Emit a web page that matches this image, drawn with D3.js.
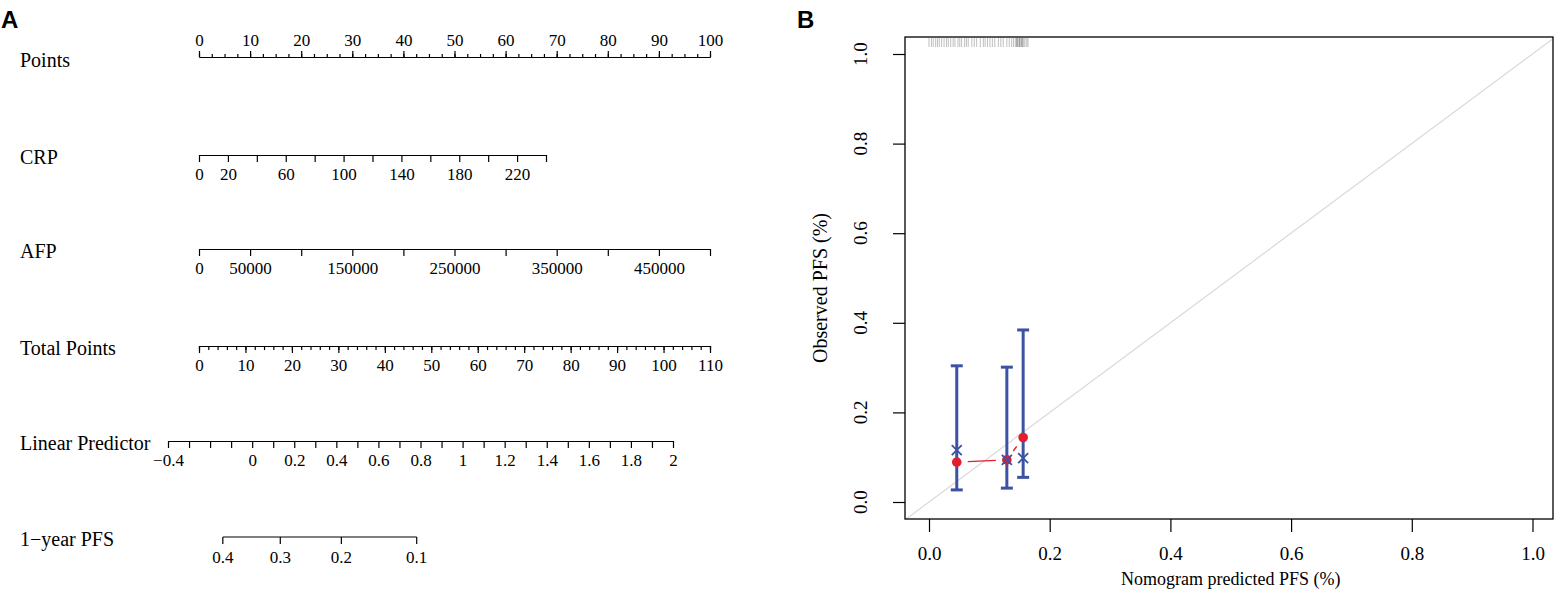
<!DOCTYPE html>
<html lang="en">
    <head>
        <meta charset="utf-8">
        <title>Nomogram and calibration</title>
        <style>
            body { margin: 0; background: #fff; }
            svg { display: block; }
            text { font-family: "Liberation Serif", "DejaVu Serif", serif; fill: #000; }
            .panel { font-family: "Liberation Sans", Arial, sans-serif; font-weight: bold; font-size: 24px; }
        </style>
    </head>
    <body>
        <script src="https://d3js.org/d3.v7.min.js"></script>
        <script>
            // ---- nomogram (panel A) data ----
            const rowNames = ["Points", "CRP", "AFP", "Total Points", "Linear Predictor", "1\u2212year PFS"];
            const pointsMajor = [0, 10, 20, 30, 40, 50, 60, 70, 80, 90, 100];
            const crpTicks = [0, 20, 40, 60, 80, 100, 120, 140, 160, 180, 200, 220, 240];
            const crpLabels = [0, 20, 60, 100, 140, 180, 220];
            const afpTicks = [0, 50000, 100000, 150000, 200000, 250000, 300000, 350000, 400000, 450000, 500000];
            const afpLabels = [0, 50000, 150000, 250000, 350000, 450000];
            const totalMajor = [0, 10, 20, 30, 40, 50, 60, 70, 80, 90, 100, 110];
            const lpTicks = [-0.4, -0.3, -0.2, -0.1, 0, 0.1, 0.2, 0.3, 0.4, 0.5, 0.6, 0.7, 0.8, 0.9, 1, 1.1, 1.2, 1.3, 1.4, 1.5, 1.6, 1.7, 1.8, 1.9, 2];
            const lpLabels = [-0.4, 0, 0.2, 0.4, 0.6, 0.8, 1, 1.2, 1.4, 1.6, 1.8, 2];
            const pfsTicks = [0.4, 0.3, 0.2, 0.1];

            // ---- calibration (panel B) data ----
            const calPred = [0.046, 0.129, 0.156];
            const calObs = [0.089, 0.094, 0.144];
            const calCorrected = [0.116, 0.094, 0.098];
            const calLower = [0.027, 0.031, 0.055];
            const calUpper = [0.304, 0.301, 0.384];
            const rugPred = [0.000, 0.004, 0.007, 0.011, 0.014, 0.017, 0.021, 0.025, 0.029, 0.032,
                             0.036, 0.040, 0.043, 0.048, 0.051, 0.054, 0.059, 0.062, 0.065, 0.071,
                             0.075, 0.079, 0.085, 0.090, 0.093, 0.097, 0.101, 0.105, 0.109, 0.115,
                             0.119, 0.123, 0.129, 0.133, 0.137, 0.140, 0.143, 0.145, 0.146, 0.147,
                             0.149, 0.150, 0.151, 0.153, 0.154, 0.155, 0.157, 0.159, 0.162, 0.164];
            const calTicks = [0, 0.2, 0.4, 0.6, 0.8, 1];

            const W = 1556, H = 595;
            const svg = d3.select("body").append("svg").attr("width", W).attr("height", H);

            // ---------------- panel A ----------------
            const rowY = [57, 155, 249, 346, 441, 537];
            const pointsX = d3.scaleLinear().domain([0, 100]).range([199, 710]);
            const crpX = d3.scaleLinear().domain([0, 240]).range([199, 546]);
            const afpX = d3.scaleLinear().domain([0, 500000]).range([199, 710]);
            const totalX = d3.scaleLinear().domain([0, 110]).range([199, 710]);
            const lpX = d3.scaleLinear().domain([-0.4, 2]).range([168, 673]);
            // survival axis sits on the linear predictor through the cloglog link
            const pfsX = v => lpX(Math.log(-Math.log(v)) - 0.052);

            const fmt = d => String(d).replace("-", "\u2212");
            const tickFont = 17;

            function styleAxis(g) {
                g.selectAll("path, line").attr("stroke", "#000").attr("stroke-width", 1.2);
                g.selectAll("text").attr("font-family", "Liberation Serif").attr("font-size", tickFont).attr("fill", "#000");
            }

            function drawRow(scale, y, ticks, labels, minor, top) {
                const make = top ? d3.axisTop : d3.axisBottom;
                if (minor) {
                    svg.append("g").attr("transform", `translate(0,${y})`)
                        .call(make(scale).tickValues(minor).tickSize(top ? 3 : 4).tickSizeOuter(0).tickFormat(""))
                        .call(styleAxis);
                }
                svg.append("g").attr("transform", `translate(0,${y})`)
                    .call(make(scale).tickValues(ticks).tickSize(top ? 6 : 7).tickSizeOuter(0)
                        .tickPadding(top ? 5 : 6)
                        .tickFormat(d => labels.includes(d) ? fmt(d) : ""))
                    .call(styleAxis);
            }

            drawRow(pointsX, rowY[0], pointsMajor, pointsMajor, d3.range(0, 100.1, 2.5), true);
            drawRow(crpX, rowY[1], crpTicks, crpLabels, null, false);
            drawRow(afpX, rowY[2], afpTicks, afpLabels, null, false);
            drawRow(totalX, rowY[3], totalMajor, totalMajor, d3.range(0, 110.1, 2), false);
            drawRow(lpX, rowY[4], lpTicks, lpLabels, null, false);

            // 1-year PFS uses its own transform, so build it by hand
            const pfsG = svg.append("g");
            pfsG.append("line")
                .attr("x1", pfsX(pfsTicks[0])).attr("x2", pfsX(pfsTicks[pfsTicks.length - 1]))
                .attr("y1", rowY[5]).attr("y2", rowY[5])
                .attr("stroke", "#000").attr("stroke-width", 1.2);
            pfsG.selectAll(".tk").data(pfsTicks).enter().append("line")
                .attr("x1", d => pfsX(d)).attr("x2", d => pfsX(d))
                .attr("y1", rowY[5]).attr("y2", rowY[5] + 7)
                .attr("stroke", "#000").attr("stroke-width", 1.2);
            pfsG.selectAll(".lb").data(pfsTicks).enter().append("text")
                .attr("x", d => pfsX(d)).attr("y", rowY[5] + 26)
                .attr("text-anchor", "middle").attr("font-size", tickFont)
                .text(d => d);

            svg.selectAll(".rowname").data(rowNames).enter().append("text")
                .attr("x", 20)
                .attr("y", (d, i) => i === 0 ? rowY[0] + 10 : rowY[i] + 9)
                .attr("font-size", 20)
                .text(d => d);

            svg.append("text").attr("class", "panel").attr("x", 1).attr("y", 28).text("A");
            svg.append("text").attr("class", "panel").attr("x", 797).attr("y", 28).text("B");

            // ---------------- panel B ----------------
            const bx = d3.scaleLinear().domain([0, 1]).range([929, 1532.5]);
            const by = d3.scaleLinear().domain([0, 1]).range([502, 54]);
            const box = { x0: 905, x1: 1553, y0: 37, y1: 519 };

            svg.append("clipPath").attr("id", "clipB")
                .append("rect").attr("x", box.x0).attr("y", box.y0)
                .attr("width", box.x1 - box.x0).attr("height", box.y1 - box.y0);

            const plot = svg.append("g").attr("clip-path", "url(#clipB)");

            // ideal line
            plot.append("line")
                .attr("x1", bx(-0.1)).attr("y1", by(-0.1))
                .attr("x2", bx(1.1)).attr("y2", by(1.1))
                .attr("stroke", "#d9d9d9").attr("stroke-width", 1.2);

            // rug of predicted values along the top
            plot.selectAll(".rug").data(rugPred).enter().append("line")
                .attr("x1", d => bx(d)).attr("x2", d => bx(d))
                .attr("y1", box.y0 + 1).attr("y2", box.y0 + 10)
                .attr("stroke", "#000").attr("stroke-opacity", 0.25).attr("stroke-width", 1);

            const blue = "#3c52a3", red = "#e31e2d";

            // error bars
            calPred.forEach((p, i) => {
                const x = bx(p);
                plot.append("line").attr("x1", x).attr("x2", x)
                    .attr("y1", by(calLower[i])).attr("y2", by(calUpper[i]))
                    .attr("stroke", blue).attr("stroke-width", 3);
                [calLower[i], calUpper[i]].forEach(v => {
                    plot.append("line").attr("x1", x - 6).attr("x2", x + 6)
                        .attr("y1", by(v)).attr("y2", by(v))
                        .attr("stroke", blue).attr("stroke-width", 3);
                });
            });

            // observed line, type "b": segments leave a gap round each point
            const gap = 11;
            for (let i = 0; i < calPred.length - 1; i++) {
                const xa = bx(calPred[i]), ya = by(calObs[i]);
                const xb = bx(calPred[i + 1]), yb = by(calObs[i + 1]);
                const len = Math.hypot(xb - xa, yb - ya);
                if (len <= 2 * gap) continue;
                const ux = (xb - xa) / len, uy = (yb - ya) / len;
                plot.append("line")
                    .attr("x1", xa + ux * gap).attr("y1", ya + uy * gap)
                    .attr("x2", xb - ux * gap).attr("y2", yb - uy * gap)
                    .attr("stroke", red).attr("stroke-width", 1.4);
            }

            plot.selectAll(".obs").data(calPred).enter().append("circle")
                .attr("cx", d => bx(d)).attr("cy", (d, i) => by(calObs[i]))
                .attr("r", 4.8).attr("fill", red);

            // bias-corrected estimates
            calPred.forEach((p, i) => {
                const x = bx(p), y = by(calCorrected[i]), s = 5;
                plot.append("path")
                    .attr("d", `M${x - s},${y - s}L${x + s},${y + s}M${x - s},${y + s}L${x + s},${y - s}`)
                    .attr("stroke", blue).attr("stroke-width", 1.8).attr("fill", "none");
            });

            // frame
            svg.append("rect").attr("x", box.x0).attr("y", box.y0)
                .attr("width", box.x1 - box.x0).attr("height", box.y1 - box.y0)
                .attr("fill", "none").attr("stroke", "#000").attr("stroke-width", 1.3);

            // x axis
            const xAxis = svg.append("g").attr("transform", `translate(0,${box.y1})`)
                .call(d3.axisBottom(bx).tickValues(calTicks).tickSize(13).tickSizeOuter(0)
                    .tickPadding(15).tickFormat(d3.format(".1f")));
            xAxis.select(".domain").remove();
            xAxis.selectAll("line").attr("stroke", "#000").attr("stroke-width", 1.2);
            xAxis.selectAll("text").attr("font-family", "Liberation Serif").attr("font-size", 19).attr("fill", "#000");

            // y axis, labels turned like R's default
            const yAxis = svg.append("g").attr("transform", `translate(${box.x0},0)`)
                .call(d3.axisLeft(by).tickValues(calTicks).tickSize(12).tickSizeOuter(0).tickFormat(""));
            yAxis.select(".domain").remove();
            yAxis.selectAll("line").attr("stroke", "#000").attr("stroke-width", 1.2);
            svg.selectAll(".ylab").data(calTicks).enter().append("text")
                .attr("transform", d => `translate(867,${by(d)}) rotate(-90)`)
                .attr("text-anchor", "middle")
                .attr("font-size", 19)
                .text(d3.format(".1f"));

            svg.append("text")
                .attr("x", (bx(0) + bx(1)) / 2).attr("y", 585)
                .attr("text-anchor", "middle").attr("font-size", 18)
                .text("Nomogram predicted PFS (%)");
            svg.append("text")
                .attr("transform", `translate(827,${(box.y0 + box.y1) / 2 + 10}) rotate(-90)`)
                .attr("text-anchor", "middle").attr("font-size", 20)
                .text("Observed PFS (%)");
        </script>
    </body>
</html>
